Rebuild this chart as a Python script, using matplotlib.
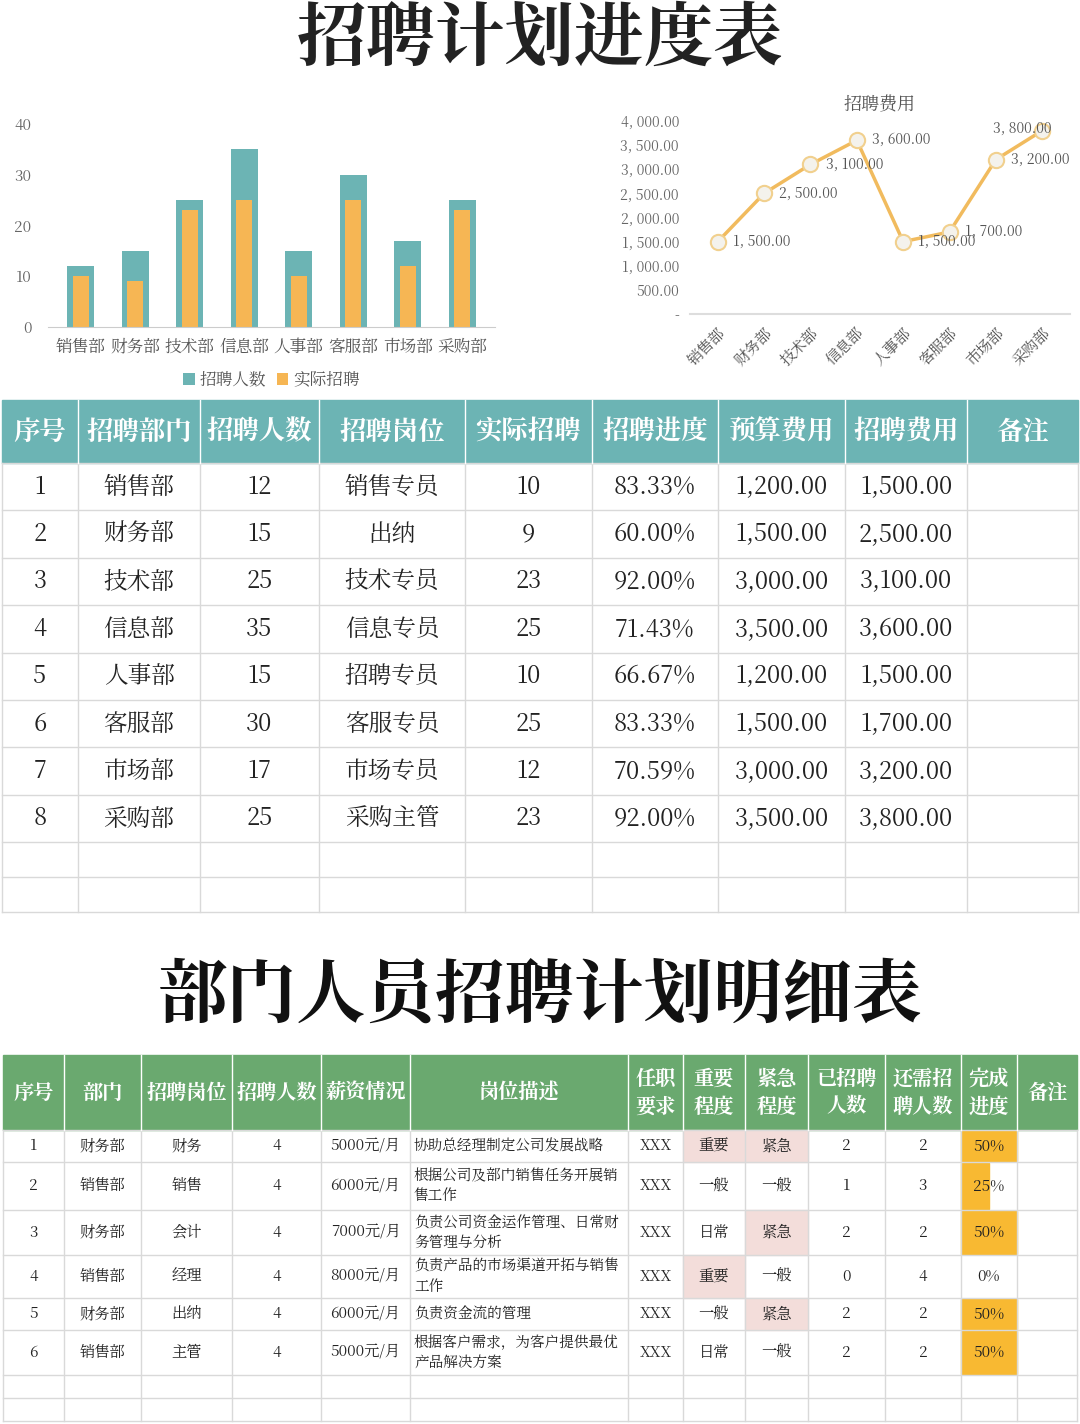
import matplotlib
matplotlib.use("Agg")
import matplotlib.pyplot as plt
from matplotlib.patches import Rectangle
from matplotlib import font_manager as fm

cjk = [f.name for f in fm.fontManager.ttflist if 'CJK' in f.name]
pref = [n for n in cjk if 'SC' in n] or cjk
plt.rcParams['font.family'] = (pref[:1] if pref else []) + ['DejaVu Sans']

depts = ["销售部", "财务部", "技术部", "信息部", "人事部", "客服部", "市场部", "采购部"]
plan = [12, 15, 25, 35, 15, 30, 17, 25]
actual = [10, 9, 23, 25, 10, 25, 12, 23]
positions = ["销售专员", "出纳", "技术专员", "信息专员", "招聘专员", "客服专员", "市场专员", "采购主管"]
budget = [1200, 1500, 3000, 3500, 1200, 1500, 3000, 3500]
cost = [1500, 2500, 3100, 3600, 1500, 1700, 3200, 3800]

top_headers = ["序号", "招聘部门", "招聘人数", "招聘岗位", "实际招聘", "招聘进度", "预算费用", "招聘费用", "备注"]

d_dept = ["财务部", "销售部", "财务部", "销售部", "财务部", "销售部"]
d_pos = ["财务", "销售", "会计", "经理", "出纳", "主管"]
d_num = [4, 4, 4, 4, 4, 4]
d_salary = ["5000元/月", "6000元/月", "7000元/月", "8000元/月", "6000元/月", "5000元/月"]
d_desc = ["协助总经理制定公司发展战略", "根据公司及部门销售任务开展销\n售工作", "负责公司资金运作管理、日常财\n务管理与分析",
          "负责产品的市场渠道开拓与销售\n工作", "负责资金流的管理", "根据客户需求，为客户提供最优\n产品解决方案"]
d_imp = ["重要", "一般", "日常", "重要", "一般", "日常"]
d_urg = ["紧急", "一般", "紧急", "一般", "紧急", "一般"]
d_done = [2, 1, 2, 0, 2, 2]
d_left = [2, 3, 2, 4, 2, 2]
bot_headers = ["序号", "部门", "招聘岗位", "招聘人数", "薪资情况", "岗位描述", "任职\n要求", "重要\n程度", "紧急\n程度", "已招聘\n人数", "还需招\n聘人数", "完成\n进度", "备注"]

W, H = 1080, 1424
fig = plt.figure(figsize=(W/100, H/100), dpi=100)
bg = fig.add_axes([0, 0, 1, 1])
bg.set_xlim(0, W); bg.set_ylim(H, 0); bg.axis('off')

TEAL = "#6cb4b4"; ORANGE = "#f6b654"; GREEN = "#6aa96f"; GRID = "#d9d9d9"
bg.text(540, 40, "招聘计划进度表", ha='center', va='center', fontsize=50, fontweight='bold', color='#222')
bg.text(540, 997, "部门人员招聘计划明细表", ha='center', va='center', fontsize=50, fontweight='bold', color='#111')

def fa(x0, y0, x1, y1):
    return fig.add_axes([x0/W, 1-y1/H, (x1-x0)/W, (y1-y0)/H])

# bar chart
ax = fa(48, 124, 495, 327)
xs = range(len(depts))
ax.bar(xs, plan, width=0.5, color=TEAL, label="招聘人数")
ax.bar(xs, actual, width=0.3, color=ORANGE, label="实际招聘")
ax.set_ylim(0, 40); ax.set_yticks([0, 10, 20, 30, 40])
ax.set_xlim(-0.6, 7.6)
ax.set_xticks(list(xs)); ax.set_xticklabels(depts, fontsize=12, color='#555')
for s in ['top', 'right', 'left']:
    ax.spines[s].set_visible(False)
ax.spines['bottom'].set_color('#ccc')
ax.tick_params(axis='y', length=0, labelsize=11, colors='#666', pad=12)
ax.tick_params(axis='x', length=0, pad=8)
ax.legend(loc='upper center', bbox_to_anchor=(0.5, -0.16), ncol=2, frameon=False, fontsize=12,
          handlelength=0.7, handleheight=0.7, columnspacing=0.6, handletextpad=0.3, labelcolor='#555',
          borderpad=0.2)

# line chart
lx = fa(690, 121, 1070, 314)
lx.plot(xs, cost, color="#f1bb5e", lw=2.5, marker='o', ms=11, mfc='#f4f2ec', mec='#f1d08e', mew=1.5, zorder=3)
lx.set_ylim(0, 4000); lx.set_xlim(-0.6, 7.6)
lx.set_yticks(range(0, 4001, 500))
lx.set_yticklabels(["-"] + [f"{v:,}.00".replace(",", ", ") for v in range(500, 4001, 500)], fontsize=10, color='#666')
lx.set_xticks(list(xs)); lx.set_xticklabels(depts, rotation=45, ha='right', rotation_mode='anchor', fontsize=11, color='#555')
for s in ['top', 'right', 'left']:
    lx.spines[s].set_visible(False)
lx.spines['bottom'].set_color('#ddd'); lx.spines['bottom'].set_linewidth(1.5)
lx.tick_params(length=0, pad=8)
lx.set_title("招聘费用", fontsize=13, color='#555', pad=8)
for i, v in enumerate(cost):
    lab = f"{v:,}.00".replace(",", ", ")
    if i == 7:
        lx.text(i + 0.2, v + 30, lab, fontsize=10, color='#555', va='center', ha='right')
    else:
        lx.text(i + 0.33, v, lab, fontsize=10, color='#555', va='center')

# top table
cx = [2, 78, 200, 319, 465, 592, 718, 845, 967, 1078]
bg.add_patch(Rectangle((cx[0], 400), cx[-1]-cx[0], 63, color=TEAL))
for i, h in enumerate(top_headers):
    bg.text((cx[i]+cx[i+1])/2, 432, h, ha='center', va='center', fontsize=19, fontweight='bold', color='white')
ry = [463 + 47.4*k for k in range(9)] + [877, 912]
for y in ry:
    bg.plot([cx[0], cx[-1]], [y, y], color=GRID, lw=1)
for x in cx:
    bg.plot([x, x], [463, 912], color=GRID, lw=1)
for x in cx[1:-1]:
    bg.plot([x, x], [400, 463], color='white', lw=1)
for r in range(8):
    yc = (ry[r] + ry[r+1]) / 2
    vals = [str(r+1), depts[r], str(plan[r]), positions[r], str(actual[r]),
            f"{actual[r]/plan[r]*100:.2f}%", f"{budget[r]:,.2f}", f"{cost[r]:,.2f}", ""]
    for i, v in enumerate(vals):
        bg.text((cx[i]+cx[i+1])/2, yc, v, ha='center', va='center', fontsize=17, color='#222')

# bottom table
bx = [3, 64, 141, 232, 321, 410, 628, 683, 745, 808, 885, 961, 1017, 1077]
bg.add_patch(Rectangle((bx[0], 1055), bx[-1]-bx[0], 75, color=GREEN))
for i, h in enumerate(bot_headers):
    bg.text((bx[i]+bx[i+1])/2, 1093, h, ha='center', va='center', fontsize=14.5, fontweight='bold',
            color='white', linespacing=1.4)
by = [1130, 1162, 1210, 1255, 1298, 1330, 1375, 1398, 1421]
for r in range(6):
    y0, y1 = by[r], by[r+1]
    yc = (y0 + y1) / 2
    if d_imp[r] == "重要":
        bg.add_patch(Rectangle((bx[7], y0), bx[8]-bx[7], y1-y0, color="#f3ddda"))
    if d_urg[r] == "紧急":
        bg.add_patch(Rectangle((bx[8], y0), bx[9]-bx[8], y1-y0, color="#f3ddda"))
    frac = d_done[r] / d_num[r]
    if frac > 0:
        bg.add_patch(Rectangle((bx[11], y0+1), (bx[12]-bx[11])*min(frac*2, 1), y1-y0-2, color="#f8b932"))
    vals = [str(r+1), d_dept[r], d_pos[r], str(d_num[r]), d_salary[r], None, "XXX", d_imp[r], d_urg[r],
            str(d_done[r]), str(d_left[r]), f"{frac*100:.0f}%", ""]
    for i, v in enumerate(vals):
        if v is None:
            bg.text(bx[i]+4, yc, d_desc[r], ha='left', va='center', fontsize=10.5, color='#222', linespacing=1.3)
        else:
            bg.text((bx[i]+bx[i+1])/2, yc, v, ha='center', va='center', fontsize=11, color='#222')
for y in by:
    bg.plot([bx[0], bx[-1]], [y, y], color=GRID, lw=1)
for x in bx:
    bg.plot([x, x], [1130, 1421], color=GRID, lw=1)
for x in bx[1:-1]:
    bg.plot([x, x], [1055, 1130], color='white', lw=1)

fig.savefig("out.png", dpi=100)
